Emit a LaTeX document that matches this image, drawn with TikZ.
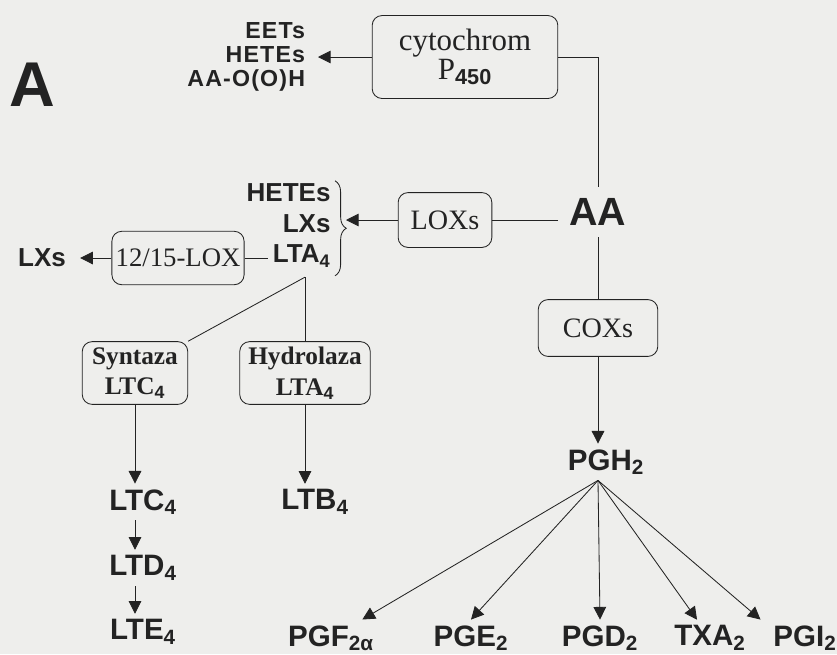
\documentclass[tikz,border=0pt]{standalone}
\usepackage{fontspec}
\setmainfont{Liberation Serif}
\setsansfont{Liberation Sans}
\usepackage{tikz}
\usetikzlibrary{arrows.meta,positioning,calc,decorations.pathreplacing}
\definecolor{paper}{RGB}{238,238,236}
\definecolor{ink}  {RGB}{ 35, 35, 35}
\newcommand{\sub}[1]{\textsubscript{\sffamily\bfseries #1}}

\begin{document}
\begin{tikzpicture}[
    x=0.025cm, y=-0.025cm,
    enzyme/.style={draw=ink, rounded corners=7pt, line width=0.6pt, align=center, inner sep=0pt, text=ink, font=\fontsize{20}{24}\selectfont},
    product/.style={text=ink, inner xsep=9pt, inner ysep=4pt, font=\sffamily\bfseries\fontsize{21}{24}\selectfont},
    branch/.style={text=ink, inner xsep=3pt, inner ysep=2pt, font=\sffamily\bfseries\fontsize{18.5}{21}\selectfont},
    arrow/.style={-{Triangle[length=9pt,width=9pt]}, line width=0.6pt, draw=ink},
    link/.style={line width=0.6pt, draw=ink},
    curly/.style={line width=0.6pt, draw=ink, decorate, decoration={brace, amplitude=8pt}}
]
    \fill[paper] (0,0) rectangle (837,654);
    \useasboundingbox (0,0) rectangle (837,654);

    \node[text=ink, font=\sffamily\bfseries\fontsize{45}{45}\selectfont] (panel) at (32,85) {A};

    % P450 branch
    \node[enzyme, minimum width=132pt, minimum height=59pt, font=\fontsize{22}{21}\selectfont] (cyto) at (465,57) {cytochrom\\P\sub{450}};
    \node[text=ink, align=right, anchor=east, inner xsep=9pt, inner ysep=2pt, font=\sffamily\bfseries\fontsize{16.5}{17}\selectfont\addfontfeatures{LetterSpace=5}] (eets) at (318,57) {EETs\\HETEs\\AA-O(O)H};
    \node[text=ink, inner sep=8pt, font=\sffamily\bfseries\fontsize{28}{28}\selectfont] (aa) at (598,212) {AA};

    % LOX branch
    \node[enzyme, minimum width=66.6pt, minimum height=39pt] (lox) at (445,220) {LOXs};
    \node[branch, anchor=east] (hetes) at (335,193) {HETEs};
    \node[branch, anchor=east] (lxs) at (335,224) {LXs};
    \node[branch, anchor=east] (lta) at (335,256) {LTA\sub{4}};
    \node[enzyme, minimum width=94pt, minimum height=38pt, font=\fontsize{19}{22}\selectfont] (lox12) at (178,258) {12/15-LOX};
    \node[branch, inner xsep=10pt] (lxsout) at (42,258) {LXs};
    \node[enzyme, minimum width=75pt, minimum height=44.6pt, font=\bfseries\fontsize{18}{22}\selectfont] (syn) at (135,373) {Syntaza\\LTC\sub{4}};
    \node[enzyme, minimum width=92.8pt, minimum height=44.6pt, font=\bfseries\fontsize{18}{22}\selectfont] (hyd) at (305,373) {Hydrolaza\\LTA\sub{4}};
    \node[product] (ltc) at (143,502) {LTC\sub{4}};
    \node[product] (ltd) at (143,568) {LTD\sub{4}};
    \node[product] (lte) at (143,632) {LTE\sub{4}};
    \node[product] (ltb) at (315,502) {LTB\sub{4}};

    % COX branch
    \node[enzyme, minimum width=85pt, minimum height=40.4pt] (cox) at (598,328) {COXs};
    \node[product] (pgh) at (606,462) {PGH\sub{2}};
    \node[product] (pgf) at (331,638) {PGF\sub{2α}};
    \node[product] (pge) at (471,638) {PGE\sub{2}};
    \node[product] (pgd) at (600,638) {PGD\sub{2}};
    \node[product] (txa) at (710,638) {TXA\sub{2}};
    \node[product] (pgi) at (805,638) {PGI\sub{2}};

    \draw[arrow] (cyto.west) -- (eets.east);
    \draw[link] (cyto.east) -| (aa.north);
    \draw[link] (aa.west |- lox.east) -- (lox.east);
    \draw[link] (aa.south) -- (cox.north);

    \draw[curly] (hetes.north east) -- ([yshift=-4pt]lta.south east);
    \coordinate (tip) at ($(hetes.north east)!0.5!([yshift=-4pt]lta.south east)+(11,0)$);
    \draw[arrow] (lox.west) -- (lox.west -| tip);
    \draw[link] (lox12.east) -- (lox12.east -| lta.west);
    \draw[arrow] (lox12.west) -- (lxsout.east);

    \coordinate (split) at ([yshift=-5pt]hyd.north |- lta.south);
    \draw[link] (split) -- (hyd.north);
    \draw[link] (split) -- (syn.north east);
    \draw[arrow] (syn.south) -- (syn.south |- ltc.north);
    \draw[arrow] (syn.south |- ltc.south) -- (syn.south |- ltd.north);
    \draw[arrow] (syn.south |- ltd.south) -- (syn.south |- lte.north);
    \draw[arrow] (hyd.south) -- (hyd.south |- ltb.north);

    \draw[arrow] (cox.south) -- (cox.south |- pgh.north);
    \coordinate (fan) at (cox.south |- pgh.south);
    \foreach \dst in {pgf, txa}
        \draw[arrow] (fan) -- (\dst);
    \draw[arrow] (fan) -- (pge.north);
    \draw[arrow] (fan) -- (pgd.north);
    \draw[arrow] (fan) -- (pgi.north west);
\end{tikzpicture}
\end{document}
